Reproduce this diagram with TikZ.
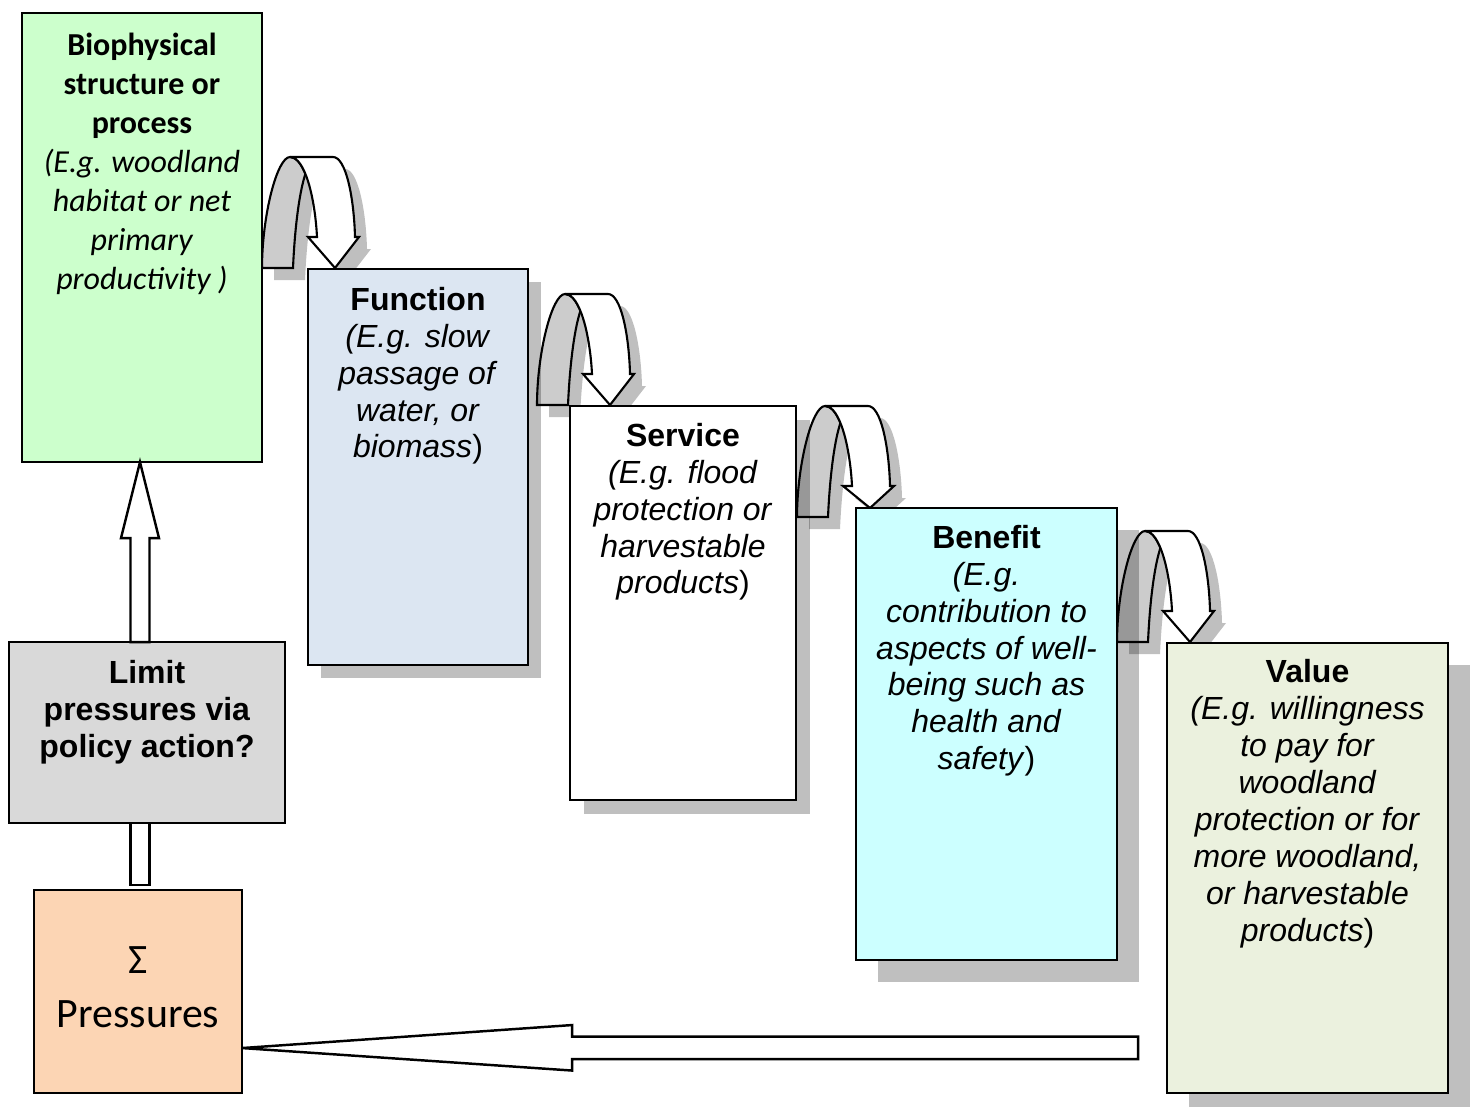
\documentclass[tikz,border=0pt]{standalone}
\usepackage{fontspec}
\setmainfont{Liberation Sans}
\newfontfamily\calibri{Carlito}
\usetikzlibrary{positioning,shadows,backgrounds}

\definecolor{bioGreen}{HTML}{CCFFCC}
\definecolor{funcBlue}{HTML}{DCE6F2}
\definecolor{beneCyan}{HTML}{CCFFFF}
\definecolor{valueOlive}{HTML}{EBF1DE}
\definecolor{limitGray}{HTML}{D9D9D9}
\definecolor{pressPeach}{HTML}{FCD5B4}

\begin{document}
\begin{tikzpicture}[x=0.01cm,y=-0.01cm]
  \tikzset{
    stage/.style={draw, line width=.7pt, inner sep=0pt, outer sep=0pt},
    shadowed/.style={drop shadow={shadow xshift=#1, shadow yshift=-#1, fill=black, opacity=.25}},
    stage text/.style={align=center, inner sep=0pt, font=\fontsize{9.1}{10.5}\selectfont},
    block arrow/.style={draw, fill=white, line width=.7pt},
    uturn/.pic={
      % shadow of the whole arrow
      \fill [black, opacity=.25, shift={(12,12)}]
        (0,0) .. controls (0,-52) and (15,-111) .. (28,-111) -- (71,-111)
        .. controls (84,-111) and (92,-70) .. (93,-31) -- (97,-31) -- (73,-#1) -- (46,-31) -- (55,-31)
        .. controls (53.8,-54.6) and (49.7,-78.6) .. (43.4,-94.1)
        .. controls (38,-78) and (33,-45) .. (31,0) -- cycle;
      % back leg
      \filldraw [fill=black!20, line width=.6pt]
        (0,0) .. controls (0,-52) and (15,-111) .. (28,-111)
        .. controls (34,-111) and (39.2,-104.4) .. (43.4,-94.1)
        .. controls (38,-78) and (33,-45) .. (31,0) -- cycle;
      % front leg with head
      \filldraw [fill=white, line width=.6pt]
        (28,-111) -- (71,-111) .. controls (84,-111) and (92,-70) .. (93,-31)
        -- (97,-31) -- (73,-#1) -- (46,-31) -- (55,-31)
        .. controls (53,-70) and (43,-111) .. (28,-111) -- cycle;
    }
  }

  \useasboundingbox (0,0) rectangle (1474,1106);

  \node [stage, fill=bioGreen, minimum width=2.40cm, minimum height=4.49cm] (bio) at (142,237.5) {};
  \node [stage, fill=funcBlue, shadowed=.13cm, minimum width=2.20cm, minimum height=3.96cm] (func) at (418,467) {};
  \node [stage, fill=white, shadowed=.14cm, minimum width=2.26cm, minimum height=3.94cm] (serv) at (683,603) {};
  \node [stage, fill=beneCyan, shadowed=.22cm, minimum width=2.61cm, minimum height=4.52cm] (bene) at (986.5,734) {};
  \node [stage, fill=valueOlive, shadowed=.22cm, minimum width=2.81cm, minimum height=4.50cm] (value) at (1307.5,868) {};
  \node [stage, fill=limitGray, minimum width=2.76cm, minimum height=1.81cm] (limit) at (147,732.5) {};
  \node [stage, fill=pressPeach, minimum width=2.08cm, minimum height=2.03cm] (press) at (138,991.5) {};

  \node [stage text, font=\calibri\fontsize{9.1}{11.1}\selectfont, below=0.19cm of bio.north] (bio text)
    {\textbf{Biophysical}\\\textbf{structure or}\\\textbf{process}\\\textit{(E.g. woodland}\\\textit{habitat or net}\\\textit{primary}\\\textit{productivity )}};
  \node [stage text, below=0.175cm of func.north] (func text)
    {\textbf{Function}\\\textit{(E.g. slow}\\\textit{passage of}\\\textit{water, or}\\\textit{biomass})};
  \node [stage text, below=0.165cm of serv.north] (serv text)
    {\textbf{Service}\\\textit{(E.g. flood}\\\textit{protection or}\\\textit{harvestable}\\\textit{products})};
  \node [stage text, below=0.165cm of bene.north] (bene text)
    {\textbf{Benefit}\\\textit{(E.g.}\\\textit{contribution to}\\\textit{aspects of well-}\\\textit{being such as}\\\textit{health and}\\\textit{safety})};
  \node [stage text, below=0.16cm of value.north] (value text)
    {\textbf{Value}\\\textit{(E.g. willingness}\\\textit{to pay for}\\\textit{woodland}\\\textit{protection or for}\\\textit{more woodland,}\\\textit{or harvestable}\\\textit{products})};
  \node [stage text, below=0.18cm of limit.north] (limit text)
    {\textbf{Limit}\\\textbf{pressures via}\\\textbf{policy action?}};
  \node [stage text, font=\calibri\fontsize{11.9}{15.2}\selectfont, below=0.56cm of press.north] (press text)
    {Σ\\Pressures};

  % policy action feeds back up to the structure
  \draw [block arrow] ([xshift=-0.02cm]bio.south) -- ++(19,76) -- ++(-9.5,0) -- ++(0,104) -- ++(-19,0) -- ++(0,-104) -- ++(-9.5,0) -- cycle;
  \draw [block arrow] ([xshift=-0.07cm]limit.south) ++(-9.5,0) rectangle ++(19,62);

  % pressures from valuation
  \draw [block arrow] ([yshift=0.45cm]press.south east) -- ++(330,-23) -- ++(0,11.5) -- ++(566,0)
    -- ++(0,22.5) -- ++(-566,0) -- ++(0,11.5) -- cycle;

  \begin{pgfonlayer}{background}
    \foreach \ax/\ay/\lift in {262/268/0, 537/405/0, 797/517/9, 1117/642/0}
      \pic at (\ax,\ay) {uturn=\lift};
  \end{pgfonlayer}
\end{tikzpicture}
\end{document}
